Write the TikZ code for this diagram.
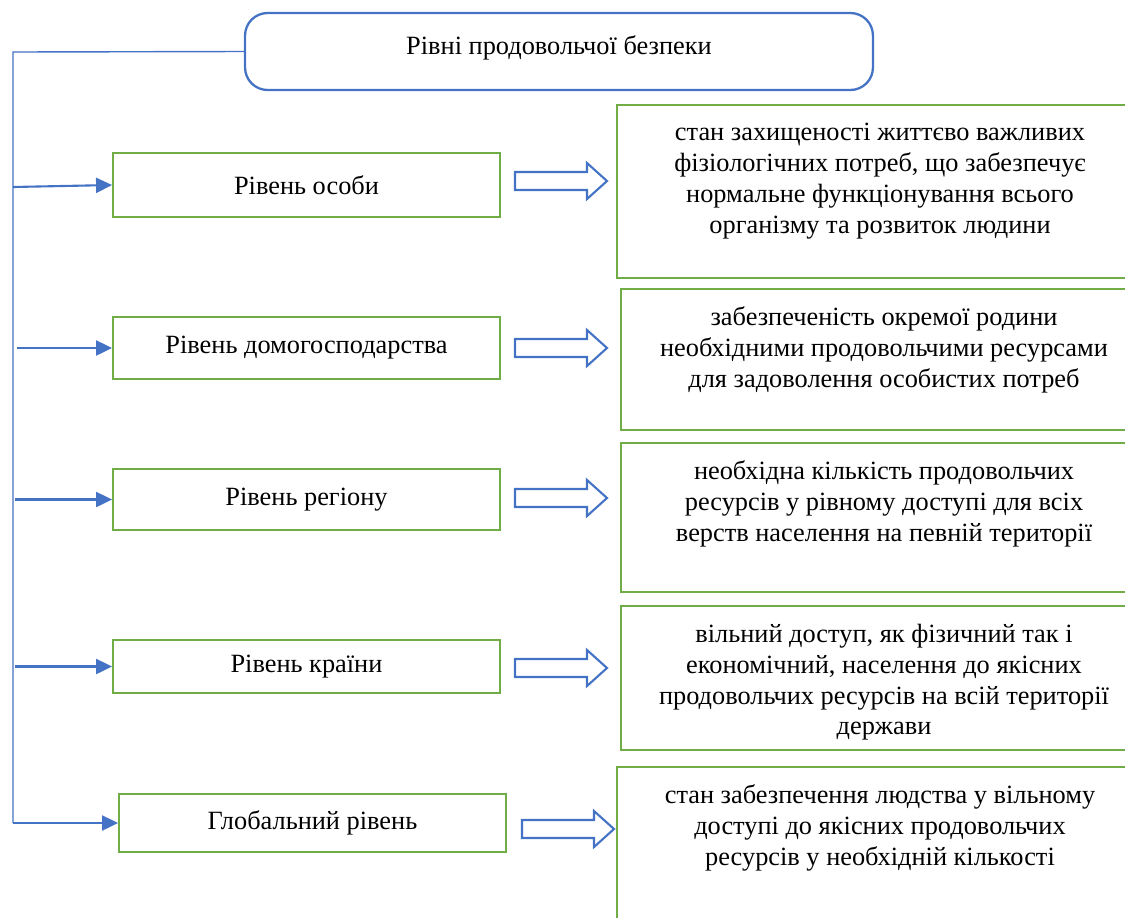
\documentclass[tikz,border=0pt]{standalone}
\usepackage{fontspec}
\setmainfont{Liberation Serif}
\usetikzlibrary{positioning, arrows.meta}

\definecolor{lineblue}{HTML}{4472C4}
\definecolor{boxgreen}{HTML}{70AD47}

\begin{document}
\begin{tikzpicture}[x=0.02cm,y=-0.02cm,font=\fontsize{15}{17.6}\selectfont]
  \tikzset{>={Triangle[length=0.32cm,width=0.3cm]}}
  \tikzset{
    title/.style={draw=lineblue,line width=1.3pt,rounded corners=0.45cm,
                  minimum width=12.56cm,minimum height=1.54cm,text depth=0.27cm},
    level/.style={draw=boxgreen,line width=1.1pt,minimum width=7.74cm},
    descr/.style={draw=boxgreen,line width=1.1pt,minimum width=10.52cm},
    txt/.style={anchor=north,align=center,inner sep=0pt,yshift=-0.37cm},
    spine/.style={draw=lineblue,line width=0.8pt},
    feed/.style={draw=lineblue,line width=1.2pt,->},
    hollow/.pic={\draw[lineblue,line width=1.2pt,fill=white]
      (0,-9) -- (72,-9) -- (72,-18) -- (92,0) -- (72,18) -- (72,9) -- (0,9) -- cycle;}
  }
  \useasboundingbox (0,0) rectangle (1125,917);

  % heading
  \node[title] (top) at (559,51.5) {Рівні продовольчої безпеки};

  % levels
  \node[level,minimum height=1.28cm] (lvl1) at (306.5,185)   {Рівень особи};
  \node[level,minimum height=1.24cm] (lvl2) at (306.5,348)   {Рівень домогосподарства};
  \node[level,minimum height=1.22cm] (lvl3) at (306.5,499.5) {Рівень регіону};
  \node[level,minimum height=1.06cm] (lvl4) at (306.5,666.5) {Рівень країни};
  \node[level,minimum height=1.16cm] (lvl5) at (312.5,823)   {Глобальний рівень};

  % descriptions
  \node[descr,minimum height=3.46cm,label={[txt]north:стан захищеності життєво важливих\\
    фізіологічних потреб, що забезпечує\\нормальне функціонування всього\\
    організму та розвиток людини}] (d1) at (880,191.5) {};
  \node[descr,minimum height=2.82cm,label={[txt]north:забезпеченість окремої родини\\
    необхідними продовольчими ресурсами\\для задоволення особистих потреб}]
    (d2) at (884,359.5) {};
  \node[descr,minimum height=2.98cm,label={[txt]north:необхідна кількість продовольчих\\
    ресурсів у рівному доступі для всіх\\верств населення на певній території}]
    (d3) at (884,517.5) {};
  \node[descr,minimum height=2.88cm,label={[txt]north:вільний доступ, як фізичний так і\\
    економічний, населення до якісних\\продовольчих ресурсів на всій території\\
    держави}] (d4) at (884,678) {};
  \node[descr,minimum height=3.46cm,label={[txt]north:стан забезпечення людства у вільному\\
    доступі до якісних продовольчих\\ресурсів у необхідній кількості}]
    (d5) at (880,853.5) {};

  % hollow arrows
  \pic at (515,181) {hollow};
  \pic at (515,348) {hollow};
  \pic at (515,498) {hollow};
  \pic at (515,668) {hollow};
  \pic at (522,829) {hollow};

  % spine and feeds
  \coordinate (c0) at (13,52);
  \coordinate (c1) at (13,187);
  \coordinate (c2) at (17,348);
  \coordinate (c3) at (15,499.5);
  \coordinate (c4) at (15,666.5);
  \coordinate (c5) at (13,823);
  \draw[spine] (top.west) -- (c0) -- (c5);
  \draw[feed] (c1) -- (lvl1.west);
  \draw[feed] (c2) -- (lvl2.west);
  \draw[feed] (c3) -- (lvl3.west);
  \draw[feed] (c4) -- (lvl4.west);
  \draw[feed] (c5) -- (lvl5.west);
\end{tikzpicture}
\end{document}
